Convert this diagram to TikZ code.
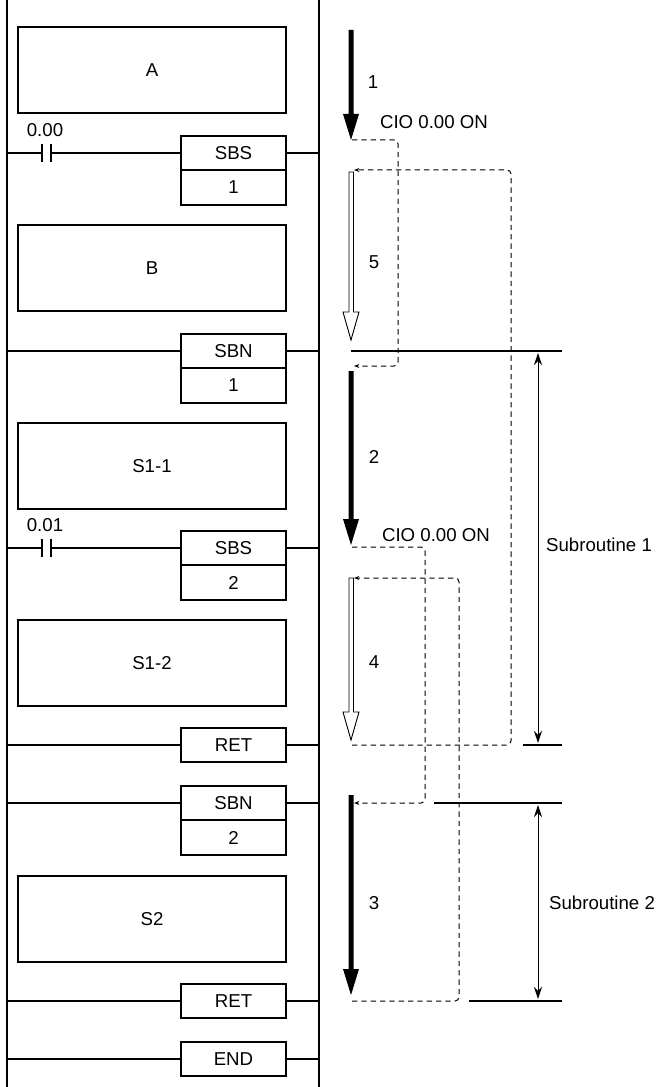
\documentclass[tikz,border=0pt]{standalone}
\usepackage{fontspec}
\setmainfont{Liberation Sans}
\usetikzlibrary{arrows.meta}
\begin{document}
\begin{tikzpicture}[x=0.75pt,y=-0.75pt,
  box/.style={draw,line width=0.8pt,fill=white},
  lbl/.style={font=\fontsize{14}{16}\selectfont},
  dsh/.style={dashed,dash pattern=on 4pt off 3pt,line width=0.75pt,rounded corners=3pt},
  dtip/.style={-{Stealth[length=4pt,width=3pt]}},
  rail/.style={line width=0.8pt}]
\useasboundingbox (0,0) rectangle (664,1087);
% rails
\draw[rail] (7,0) -- (7,1087);
\draw[rail] (319,0) -- (319,1087);
% big boxes
\foreach \y/\t in {27/A,225/B,423/S1-1,620/S1-2,876/S2}
  \draw[box] (18,\y) rectangle (286,\y+86) node[midway,lbl] {\t};
% rungs with instruction boxes
\newcommand{\rung}[3]{%
  \draw[rail] (7,#1) -- (181,#1); \draw[rail] (286,#1) -- (319,#1);
  \draw[box] (181,#1-17) rectangle (286,#1+17) node[midway,lbl] {#2};
  \ifx&#3&\else
  \draw[box] (181,#1+17) rectangle (286,#1+52) node[midway,lbl] {#3};\fi}
\rung{153}{SBS}{1}
\rung{351}{SBN}{1}
\rung{548}{SBS}{2}
\rung{745}{RET}{}
\rung{803}{SBN}{2}
\rung{1001}{RET}{}
\rung{1059}{END}{}
% contacts
\fill[white] (42,145) rectangle (51,161);
\draw[line width=0.8pt] (42,144) -- (42,162) (51,144) -- (51,162);
\node[lbl] at (45,130) {0.00};
\fill[white] (42,540) rectangle (51,556);
\draw[line width=0.8pt] (42,539) -- (42,557) (51,539) -- (51,557);
\node[lbl] at (45,525) {0.01};
% flow arrows
\newcommand{\solidarr}[2]{\fill (348.5,#1) -- (353.5,#1) -- (353.5,#2-26) -- (359,#2-26) -- (351,#2) -- (343,#2-26) -- (348.5,#2-26) -- cycle;}
\newcommand{\hollowarr}[2]{\draw[fill=white,line width=0.7pt] (349,#1) -- (353.5,#1) -- (353.5,#2-28) -- (359,#2-28) -- (351,#2) -- (343,#2-28) -- (349,#2-28) -- cycle;}
\solidarr{30}{140}
\hollowarr{172}{340}
\solidarr{371}{545}
\hollowarr{578}{740}
\solidarr{795}{995}
\node[lbl] at (373,82) {1};
\node[lbl] at (374,262) {5};
\node[lbl] at (374,457) {2};
\node[lbl] at (374,662) {4};
\node[lbl] at (374,903) {3};
\node[lbl] at (434,122) {CIO 0.00 ON};
\node[lbl] at (436,535) {CIO 0.00 ON};
% dashed jumps
\coordinate (j1a) at (352,140); \coordinate (j1b) at (354,366);
\draw[dsh,dtip] (j1a) -- (398,140) -- (398,366) -- (j1b);
\coordinate (r1a) at (352,745); \coordinate (r1b) at (354,170);
\draw[dsh,dtip] (r1a) -- (511,745) -- (511,170) -- (r1b);
\coordinate (j2a) at (352,547); \coordinate (j2b) at (354,803);
\draw[dsh,dtip] (j2a) -- (425,547) -- (425,803) -- (j2b);
\coordinate (r2a) at (352,1001); \coordinate (r2b) at (354,578);
\draw[dsh,dtip] (r2a) -- (459,1001) -- (459,578) -- (r2b);
% subroutine marks
\draw[rail] (351,351) -- (562,351);
\draw[rail] (523,745) -- (562,745);
\draw[rail] (434,803) -- (562,803);
\draw[rail] (469,1001) -- (562,1001);
\draw[line width=0.75pt,{Stealth[length=9pt,width=6pt]}-{Stealth[length=9pt,width=6pt]}] (538,353) -- (538,743);
\draw[line width=0.75pt,{Stealth[length=9pt,width=6pt]}-{Stealth[length=9pt,width=6pt]}] (538,805) -- (538,999);
\node[lbl,fill=white,inner sep=1pt] at (599,545) {Subroutine 1};
\node[lbl,fill=white,inner sep=1pt] at (602,903) {Subroutine 2};
\end{tikzpicture}
\end{document}
